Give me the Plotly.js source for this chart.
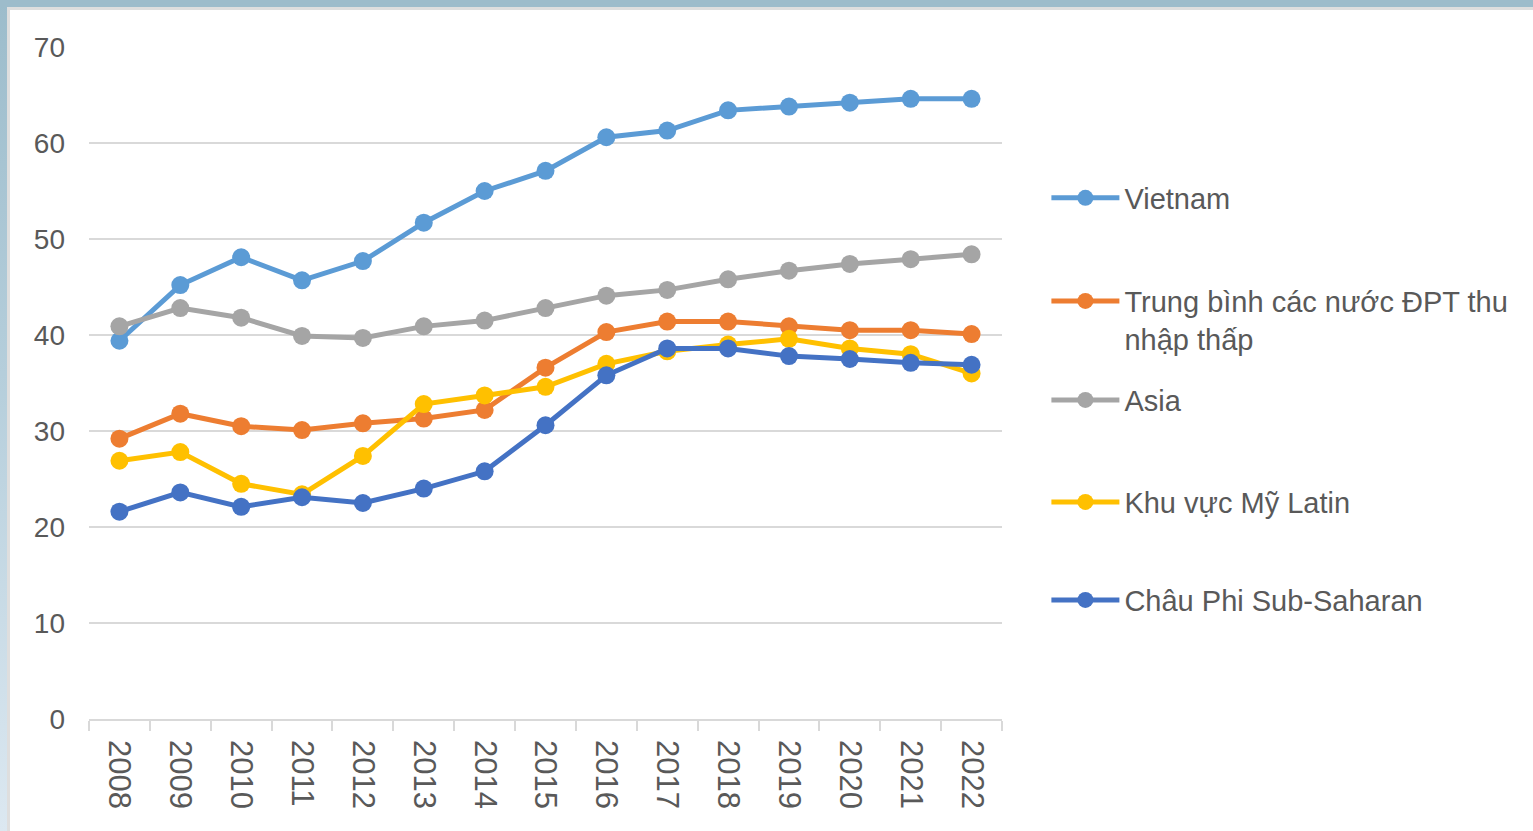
<!DOCTYPE html>
<html>
<head>
<meta charset="utf-8">
<script src="https://cdn.plot.ly/plotly-3.0.1.min.js"></script>
<style>
  html, body { margin: 0; padding: 0; width: 1533px; height: 831px; overflow: hidden; }
  #frame { position: absolute; left: 0; top: 0; width: 1533px; height: 831px;
           background: linear-gradient(to bottom, #9cbccb 0%, #b5cedb 45%, #dce8f1 100%); }
  #topbar { position: absolute; left: 0; top: 0; width: 1533px; height: 7px; background: #9dbccb; }
  #inner { position: absolute; left: 7px; top: 7px; width: 1526px; height: 824px;
           background: #ffffff; border-left: 3px solid #dedede; border-top: 3px solid #dedede; box-sizing: border-box; }
  #chart { position: absolute; left: 10px; top: 10px; width: 1523px; height: 821px; }
</style>
</head>
<body>
<div id="frame"></div>
<div id="topbar"></div>
<div id="inner"></div>
<div id="chart"></div>
<script>
const years = ["2008","2009","2010","2011","2012","2013","2014","2015","2016","2017","2018","2019","2020","2021","2022"];

const seriesNames = [
  "Vietnam",
  "Trung bình các nước ĐPT thu<br>nhập thấp",
  "Asia",
  "Khu vực Mỹ Latin",
  "Châu Phi Sub-Saharan"
];

const vietnam   = [39.4, 45.2, 48.1, 45.7, 47.7, 51.7, 55.0, 57.1, 60.6, 61.3, 63.4, 63.8, 64.2, 64.6, 64.6];
const lowIncome = [29.2, 31.8, 30.5, 30.1, 30.8, 31.3, 32.2, 36.6, 40.3, 41.4, 41.4, 40.9, 40.5, 40.5, 40.1];
const asia      = [40.9, 42.8, 41.8, 39.9, 39.7, 40.9, 41.5, 42.8, 44.1, 44.7, 45.8, 46.7, 47.4, 47.9, 48.4];
const latin     = [26.9, 27.8, 24.5, 23.4, 27.4, 32.8, 33.7, 34.6, 37.0, 38.3, 39.0, 39.6, 38.6, 38.0, 36.0];
const africa    = [21.6, 23.6, 22.1, 23.1, 22.5, 24.0, 25.8, 30.6, 35.8, 38.6, 38.6, 37.8, 37.5, 37.1, 36.9];

const seriesValues = [vietnam, lowIncome, asia, latin, africa];
const colors = ["#5b9bd5", "#ed7d31", "#a5a5a5", "#ffc000", "#4472c4"];
const legendIds = ["legend", "legend2", "legend3", "legend4", "legend5"];
// legend item centre positions (container fraction from bottom)
const legendY = [0.7710, 0.6455, 0.5249, 0.4007, 0.2813];

const traces = seriesValues.map((vals, i) => ({
  type: "scatter",
  mode: "lines+markers",
  x: years,
  y: vals,
  name: seriesNames[i],
  legend: legendIds[i],
  line: { color: colors[i], width: 5 },
  marker: { color: colors[i], size: 18 },
  hoverinfo: "x+y+name"
}));

const textColor = "#595959";
const fontFam = "'Liberation Sans', Arial, sans-serif";

const layout = {
  width: 1523,
  height: 821,
  margin: { l: 79, r: 531, t: 37, b: 112 },
  paper_bgcolor: "rgba(0,0,0,0)",
  plot_bgcolor: "rgba(0,0,0,0)",
  font: { family: fontFam, color: textColor, size: 28 },
  xaxis: {
    type: "category",
    range: [-0.5, 14.5],
    showgrid: false,
    showline: true,
    linecolor: "#d9d9d9",
    linewidth: 1.5,
    ticks: "outside",
    tickson: "boundaries",
    ticklen: 10,
    tickcolor: "#d9d9d9",
    tickwidth: 1.5,
    tickangle: 90,
    tickfont: { family: fontFam, color: textColor, size: 31 },
    ticklabelstandoff: 13,
    fixedrange: true
  },
  yaxis: {
    range: [0, 70],
    dtick: 10,
    tick0: 0,
    showgrid: true,
    gridcolor: "#d9d9d9",
    gridwidth: 1.5,
    zeroline: false,
    showline: false,
    ticks: "",
    tickfont: { family: fontFam, color: textColor, size: 28 },
    ticklabelstandoff: 23,
    fixedrange: true
  },
  showlegend: true
};

legendIds.forEach((id, i) => {
  layout[id] = {
    xref: "container",
    yref: "container",
    x: 0.6805,
    xanchor: "left",
    y: legendY[i],
    yanchor: i === 1 ? "top" : "middle",
    valign: "top",
    itemwidth: 68,
    bgcolor: "rgba(0,0,0,0)",
    borderwidth: 0,
    font: { family: fontFam, color: textColor, size: 29 },
    itemclick: false,
    itemdoubleclick: false
  };
});
// second legend: anchor top of box at first line
layout.legend2.y = 0.6455 + 0.031;

Plotly.newPlot("chart", traces, layout, { displayModeBar: false, staticPlot: false });
</script>
</body>
</html>
